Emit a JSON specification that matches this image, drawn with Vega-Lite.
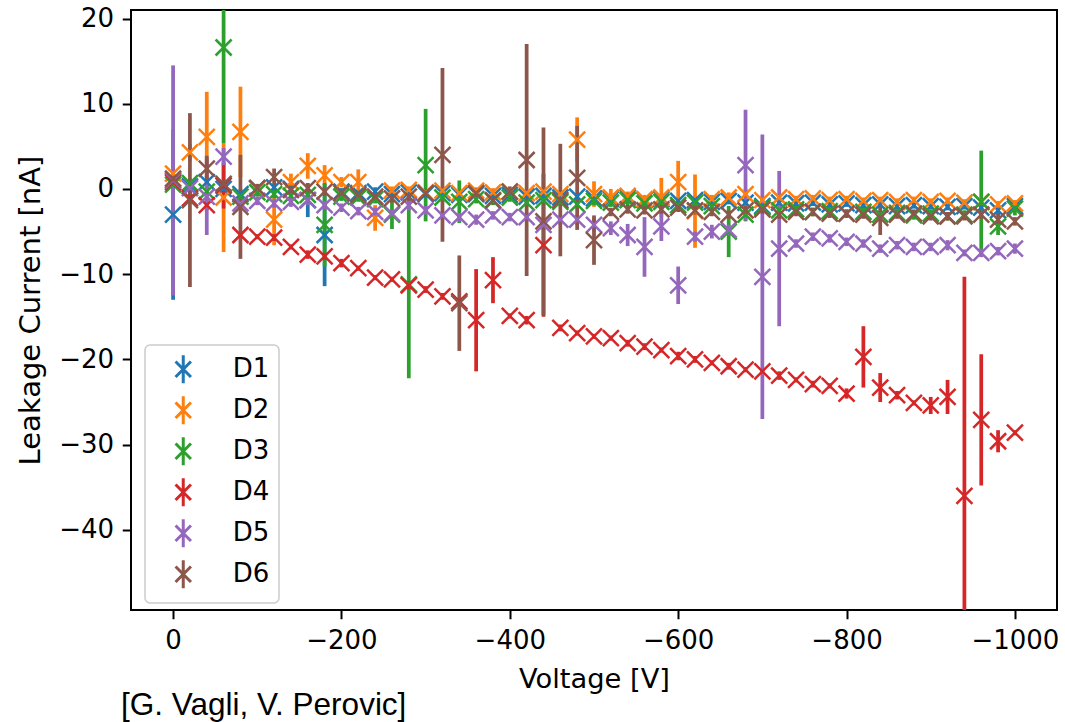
{
  "$schema": "https://vega.github.io/schema/vega-lite/v6.json",
  "autosize": "none",
  "width": 926,
  "height": 600,
  "padding": {"left": 131, "top": 10, "right": 8, "bottom": 112},
  "background": "white",
  "title": {"text": "[G. Vagli, V. Perovic]", "orient": "bottom", "anchor": "start", "frame": "group", "font": "Liberation Sans", "fontSize": 31.5, "fontWeight": "normal", "color": "black", "offset": -3, "dx": -10},
  "data": {"values": [
    {"s":"D1","V":0,"I":-3.0,"e":10},{"s":"D1","V":-20,"I":0.3,"e":0.8},{"s":"D1","V":-40,"I":0.8,"e":0.8},{"s":"D1","V":-60,"I":0.0,"e":0.5},{"s":"D1","V":-80,"I":-0.6,"e":0.6},{"s":"D1","V":-100,"I":0.1,"e":0.4},{"s":"D1","V":-120,"I":0.2,"e":0.4},{"s":"D1","V":-140,"I":0.0,"e":0.5},{"s":"D1","V":-160,"I":-1.3,"e":2.0},{"s":"D1","V":-180,"I":-5.4,"e":6.0},
    {"s":"D1","V":-200,"I":-0.3,"e":0.4},{"s":"D1","V":-220,"I":-0.5,"e":0.4},{"s":"D1","V":-240,"I":-0.3,"e":0.5},{"s":"D1","V":-260,"I":-0.6,"e":0.4},{"s":"D1","V":-280,"I":-0.4,"e":0.4},{"s":"D1","V":-300,"I":-0.6,"e":0.4},{"s":"D1","V":-320,"I":-0.5,"e":0.4},{"s":"D1","V":-340,"I":-0.7,"e":0.4},{"s":"D1","V":-360,"I":-0.6,"e":0.4},{"s":"D1","V":-380,"I":-0.8,"e":0.4},
    {"s":"D1","V":-400,"I":-0.7,"e":0.4},{"s":"D1","V":-420,"I":-0.9,"e":0.4},{"s":"D1","V":-440,"I":-0.8,"e":0.4},{"s":"D1","V":-460,"I":-1.0,"e":0.4},{"s":"D1","V":-480,"I":-0.9,"e":0.4},{"s":"D1","V":-500,"I":-1.1,"e":0.4},{"s":"D1","V":-520,"I":-1.2,"e":0.4},{"s":"D1","V":-540,"I":-1.0,"e":0.4},{"s":"D1","V":-560,"I":-1.3,"e":0.4},{"s":"D1","V":-580,"I":-1.2,"e":0.4},
    {"s":"D1","V":-600,"I":-1.4,"e":0.4},{"s":"D1","V":-620,"I":-1.3,"e":0.4},{"s":"D1","V":-640,"I":-1.5,"e":0.4},{"s":"D1","V":-660,"I":-1.4,"e":0.4},{"s":"D1","V":-680,"I":-1.6,"e":0.4},{"s":"D1","V":-700,"I":-2.0,"e":0.5},{"s":"D1","V":-720,"I":-1.6,"e":0.4},{"s":"D1","V":-740,"I":-1.7,"e":0.4},{"s":"D1","V":-760,"I":-1.6,"e":0.4},{"s":"D1","V":-780,"I":-1.8,"e":0.4},
    {"s":"D1","V":-800,"I":-1.7,"e":0.4},{"s":"D1","V":-820,"I":-1.9,"e":0.4},{"s":"D1","V":-840,"I":-1.8,"e":0.5},{"s":"D1","V":-860,"I":-2.0,"e":0.4},{"s":"D1","V":-880,"I":-1.9,"e":0.4},{"s":"D1","V":-900,"I":-2.0,"e":0.4},{"s":"D1","V":-920,"I":-2.1,"e":0.4},{"s":"D1","V":-940,"I":-2.0,"e":0.4},{"s":"D1","V":-960,"I":-2.2,"e":0.4},{"s":"D1","V":-980,"I":-2.5,"e":0.6},{"s":"D1","V":-1000,"I":-2.0,"e":0.4},

    {"s":"D2","V":0,"I":1.8,"e":0.8},{"s":"D2","V":-20,"I":4.3,"e":1.0},{"s":"D2","V":-40,"I":6.1,"e":5.3},{"s":"D2","V":-60,"I":-1.0,"e":6.4},{"s":"D2","V":-80,"I":6.7,"e":5.3},{"s":"D2","V":-100,"I":0.0,"e":0.5},{"s":"D2","V":-120,"I":-3.6,"e":3.0},{"s":"D2","V":-140,"I":0.8,"e":1.0},{"s":"D2","V":-160,"I":2.7,"e":1.5},{"s":"D2","V":-180,"I":1.6,"e":1.2},
    {"s":"D2","V":-200,"I":0.8,"e":0.6},{"s":"D2","V":-220,"I":0.8,"e":1.5},{"s":"D2","V":-240,"I":-3.4,"e":1.5},{"s":"D2","V":-260,"I":-0.2,"e":0.5},{"s":"D2","V":-280,"I":-0.1,"e":0.4},{"s":"D2","V":-300,"I":-0.4,"e":0.4},{"s":"D2","V":-320,"I":-0.2,"e":0.4},{"s":"D2","V":-340,"I":-0.5,"e":0.4},{"s":"D2","V":-360,"I":-0.2,"e":0.4},{"s":"D2","V":-380,"I":-0.4,"e":0.5},
    {"s":"D2","V":-400,"I":-0.3,"e":0.4},{"s":"D2","V":-420,"I":-0.5,"e":0.4},{"s":"D2","V":-440,"I":-0.3,"e":0.4},{"s":"D2","V":-460,"I":-0.6,"e":0.4},{"s":"D2","V":-480,"I":5.8,"e":2.6},{"s":"D2","V":-500,"I":-0.6,"e":1.5},{"s":"D2","V":-520,"I":-1.0,"e":1.0},{"s":"D2","V":-540,"I":-0.8,"e":0.5},{"s":"D2","V":-560,"I":-1.2,"e":0.5},{"s":"D2","V":-580,"I":-1.0,"e":2.3},
    {"s":"D2","V":-600,"I":0.8,"e":2.5},{"s":"D2","V":-620,"I":-2.6,"e":4.3},{"s":"D2","V":-640,"I":-1.2,"e":0.5},{"s":"D2","V":-660,"I":-1.0,"e":0.6},{"s":"D2","V":-680,"I":-0.6,"e":0.6},{"s":"D2","V":-700,"I":-1.3,"e":0.5},{"s":"D2","V":-720,"I":-1.0,"e":0.4},{"s":"D2","V":-740,"I":-1.2,"e":0.4},{"s":"D2","V":-760,"I":-1.1,"e":0.4},{"s":"D2","V":-780,"I":-1.3,"e":0.4},
    {"s":"D2","V":-800,"I":-1.2,"e":0.4},{"s":"D2","V":-820,"I":-1.4,"e":0.4},{"s":"D2","V":-840,"I":-1.3,"e":0.4},{"s":"D2","V":-860,"I":-1.5,"e":0.4},{"s":"D2","V":-880,"I":-1.3,"e":0.4},{"s":"D2","V":-900,"I":-1.5,"e":0.4},{"s":"D2","V":-920,"I":-1.4,"e":0.4},{"s":"D2","V":-940,"I":-1.6,"e":0.4},{"s":"D2","V":-960,"I":-1.5,"e":0.4},{"s":"D2","V":-980,"I":-1.8,"e":0.4},{"s":"D2","V":-1000,"I":-1.7,"e":0.4},

    {"s":"D3","V":0,"I":0.5,"e":0.5},{"s":"D3","V":-20,"I":0.7,"e":0.5},{"s":"D3","V":-40,"I":-0.3,"e":0.6},{"s":"D3","V":-60,"I":16.6,"e":11.2},{"s":"D3","V":-80,"I":-0.9,"e":0.6},{"s":"D3","V":-100,"I":-0.4,"e":0.5},{"s":"D3","V":-120,"I":-0.6,"e":0.5},{"s":"D3","V":-140,"I":-0.8,"e":0.5},{"s":"D3","V":-160,"I":-0.7,"e":0.6},{"s":"D3","V":-180,"I":-4.2,"e":4.9},
    {"s":"D3","V":-200,"I":-0.9,"e":0.5},{"s":"D3","V":-220,"I":-1.0,"e":0.5},{"s":"D3","V":-240,"I":-1.2,"e":0.5},{"s":"D3","V":-260,"I":-3.0,"e":1.7},{"s":"D3","V":-280,"I":-11.2,"e":11.0},{"s":"D3","V":-300,"I":2.8,"e":6.6},{"s":"D3","V":-320,"I":-1.0,"e":0.5},{"s":"D3","V":-340,"I":-1.5,"e":2.5},{"s":"D3","V":-360,"I":-1.2,"e":0.5},{"s":"D3","V":-380,"I":-1.4,"e":0.5},
    {"s":"D3","V":-400,"I":-1.0,"e":0.5},{"s":"D3","V":-420,"I":-1.6,"e":0.5},{"s":"D3","V":-440,"I":-1.3,"e":0.5},{"s":"D3","V":-460,"I":-1.5,"e":0.5},{"s":"D3","V":-480,"I":-1.8,"e":0.5},{"s":"D3","V":-500,"I":-1.4,"e":0.5},{"s":"D3","V":-520,"I":-1.6,"e":0.5},{"s":"D3","V":-540,"I":-1.3,"e":0.8},{"s":"D3","V":-560,"I":-1.7,"e":0.5},{"s":"D3","V":-580,"I":-1.5,"e":0.5},
    {"s":"D3","V":-600,"I":-1.9,"e":0.5},{"s":"D3","V":-620,"I":-1.6,"e":0.5},{"s":"D3","V":-640,"I":-2.0,"e":0.5},{"s":"D3","V":-660,"I":-5.0,"e":3.0},{"s":"D3","V":-680,"I":-3.0,"e":0.8},{"s":"D3","V":-700,"I":-2.2,"e":0.5},{"s":"D3","V":-720,"I":-2.5,"e":0.5},{"s":"D3","V":-740,"I":-2.4,"e":0.6},{"s":"D3","V":-760,"I":-2.7,"e":0.5},{"s":"D3","V":-780,"I":-2.6,"e":0.5},
    {"s":"D3","V":-800,"I":-2.9,"e":0.5},{"s":"D3","V":-820,"I":-2.7,"e":0.5},{"s":"D3","V":-840,"I":-3.0,"e":0.5},{"s":"D3","V":-860,"I":-2.8,"e":0.5},{"s":"D3","V":-880,"I":-3.1,"e":0.5},{"s":"D3","V":-900,"I":-2.9,"e":0.5},{"s":"D3","V":-920,"I":-3.2,"e":0.5},{"s":"D3","V":-940,"I":-3.0,"e":0.5},{"s":"D3","V":-960,"I":-1.5,"e":6.0},{"s":"D3","V":-980,"I":-4.4,"e":1.0},{"s":"D3","V":-1000,"I":-2.3,"e":0.8},

    {"s":"D4","V":0,"I":0.8,"e":0.5},{"s":"D4","V":-20,"I":-1.1,"e":0.6},{"s":"D4","V":-40,"I":-1.9,"e":0.6},{"s":"D4","V":-60,"I":0.4,"e":2.7},{"s":"D4","V":-80,"I":-5.4,"e":0.4},{"s":"D4","V":-100,"I":-5.6,"e":0.3},{"s":"D4","V":-120,"I":-5.7,"e":0.4},{"s":"D4","V":-140,"I":-6.8,"e":0.3},{"s":"D4","V":-160,"I":-7.7,"e":0.5},{"s":"D4","V":-180,"I":-7.9,"e":0.4},
    {"s":"D4","V":-200,"I":-8.7,"e":0.5},{"s":"D4","V":-220,"I":-9.3,"e":0.3},{"s":"D4","V":-240,"I":-10.4,"e":0.3},{"s":"D4","V":-260,"I":-10.6,"e":0.3},{"s":"D4","V":-280,"I":-11.3,"e":0.5},{"s":"D4","V":-300,"I":-11.8,"e":0.4},{"s":"D4","V":-320,"I":-12.6,"e":0.4},{"s":"D4","V":-340,"I":-13.2,"e":0.5},{"s":"D4","V":-360,"I":-15.4,"e":6.0},{"s":"D4","V":-380,"I":-10.7,"e":2.7},
    {"s":"D4","V":-400,"I":-14.9,"e":0.3},{"s":"D4","V":-420,"I":-15.4,"e":0.5},{"s":"D4","V":-440,"I":-6.6,"e":8.4},{"s":"D4","V":-460,"I":-16.3,"e":0.4},{"s":"D4","V":-480,"I":-16.9,"e":0.3},{"s":"D4","V":-500,"I":-17.3,"e":0.3},{"s":"D4","V":-520,"I":-17.5,"e":0.3},{"s":"D4","V":-540,"I":-18.1,"e":0.4},{"s":"D4","V":-560,"I":-18.5,"e":0.4},{"s":"D4","V":-580,"I":-18.9,"e":0.3},
    {"s":"D4","V":-600,"I":-19.6,"e":0.5},{"s":"D4","V":-620,"I":-20.0,"e":0.4},{"s":"D4","V":-640,"I":-20.4,"e":0.3},{"s":"D4","V":-660,"I":-20.8,"e":0.4},{"s":"D4","V":-680,"I":-21.2,"e":0.3},{"s":"D4","V":-700,"I":-21.4,"e":0.3},{"s":"D4","V":-720,"I":-21.9,"e":0.5},{"s":"D4","V":-740,"I":-22.4,"e":0.3},{"s":"D4","V":-760,"I":-22.9,"e":0.4},{"s":"D4","V":-780,"I":-23.1,"e":0.3},
    {"s":"D4","V":-800,"I":-24.0,"e":0.6},{"s":"D4","V":-820,"I":-19.7,"e":3.6},{"s":"D4","V":-840,"I":-23.3,"e":1.7},{"s":"D4","V":-860,"I":-24.2,"e":0.5},{"s":"D4","V":-880,"I":-25.1,"e":0.3},{"s":"D4","V":-900,"I":-25.4,"e":1.0},{"s":"D4","V":-920,"I":-24.4,"e":2.0},{"s":"D4","V":-940,"I":-36.0,"e":25.7},{"s":"D4","V":-960,"I":-27.1,"e":7.7},{"s":"D4","V":-980,"I":-29.6,"e":1.3},{"s":"D4","V":-1000,"I":-28.6,"e":0.3},

    {"s":"D5","V":0,"I":1.0,"e":13.5},{"s":"D5","V":-20,"I":0.1,"e":0.6},{"s":"D5","V":-40,"I":-0.9,"e":4.5},{"s":"D5","V":-60,"I":3.8,"e":1.0},{"s":"D5","V":-80,"I":-1.7,"e":0.5},{"s":"D5","V":-100,"I":-1.4,"e":0.5},{"s":"D5","V":-120,"I":-1.7,"e":0.5},{"s":"D5","V":-140,"I":-1.5,"e":0.6},{"s":"D5","V":-160,"I":-1.3,"e":0.6},{"s":"D5","V":-180,"I":-1.9,"e":0.5},
    {"s":"D5","V":-200,"I":-2.2,"e":0.5},{"s":"D5","V":-220,"I":-2.6,"e":0.5},{"s":"D5","V":-240,"I":-2.7,"e":0.5},{"s":"D5","V":-260,"I":-2.9,"e":0.5},{"s":"D5","V":-280,"I":-1.9,"e":0.6},{"s":"D5","V":-300,"I":-2.5,"e":0.5},{"s":"D5","V":-320,"I":-3.1,"e":0.5},{"s":"D5","V":-340,"I":-3.3,"e":0.5},{"s":"D5","V":-360,"I":-3.6,"e":0.6},{"s":"D5","V":-380,"I":-3.1,"e":0.5},
    {"s":"D5","V":-400,"I":-3.3,"e":0.5},{"s":"D5","V":-420,"I":-3.3,"e":0.5},{"s":"D5","V":-440,"I":-4.2,"e":0.6},{"s":"D5","V":-460,"I":-3.6,"e":0.6},{"s":"D5","V":-480,"I":-3.6,"e":0.6},{"s":"D5","V":-500,"I":-4.2,"e":0.8},{"s":"D5","V":-520,"I":-4.6,"e":0.8},{"s":"D5","V":-540,"I":-5.4,"e":1.3},{"s":"D5","V":-560,"I":-6.8,"e":3.5},{"s":"D5","V":-580,"I":-4.4,"e":1.7},
    {"s":"D5","V":-600,"I":-11.3,"e":2.2},{"s":"D5","V":-620,"I":-5.6,"e":0.6},{"s":"D5","V":-640,"I":-5.0,"e":0.8},{"s":"D5","V":-660,"I":-4.8,"e":0.6},{"s":"D5","V":-680,"I":2.8,"e":6.5},{"s":"D5","V":-700,"I":-10.3,"e":16.7},{"s":"D5","V":-720,"I":-7.0,"e":9.1},{"s":"D5","V":-740,"I":-6.4,"e":0.5},{"s":"D5","V":-760,"I":-5.6,"e":0.5},{"s":"D5","V":-780,"I":-5.8,"e":0.5},
    {"s":"D5","V":-800,"I":-6.2,"e":0.5},{"s":"D5","V":-820,"I":-6.4,"e":0.5},{"s":"D5","V":-840,"I":-7.0,"e":0.5},{"s":"D5","V":-860,"I":-6.6,"e":0.5},{"s":"D5","V":-880,"I":-6.8,"e":0.5},{"s":"D5","V":-900,"I":-6.8,"e":0.5},{"s":"D5","V":-920,"I":-6.6,"e":0.6},{"s":"D5","V":-940,"I":-7.5,"e":0.4},{"s":"D5","V":-960,"I":-7.5,"e":0.5},{"s":"D5","V":-980,"I":-7.3,"e":0.5},{"s":"D5","V":-1000,"I":-7.0,"e":0.6},

    {"s":"D6","V":0,"I":1.2,"e":0.8},{"s":"D6","V":-20,"I":-1.3,"e":10.2},{"s":"D6","V":-40,"I":2.4,"e":1.5},{"s":"D6","V":-60,"I":0.6,"e":0.5},{"s":"D6","V":-80,"I":-2.1,"e":6.1},{"s":"D6","V":-100,"I":0.1,"e":0.5},{"s":"D6","V":-120,"I":1.4,"e":1.0},{"s":"D6","V":-140,"I":-0.1,"e":0.5},{"s":"D6","V":-160,"I":0.1,"e":0.5},{"s":"D6","V":-180,"I":-0.3,"e":0.5},
    {"s":"D6","V":-200,"I":-0.5,"e":0.5},{"s":"D6","V":-220,"I":-0.7,"e":0.5},{"s":"D6","V":-240,"I":-0.9,"e":0.5},{"s":"D6","V":-260,"I":-1.1,"e":0.5},{"s":"D6","V":-280,"I":-0.9,"e":0.5},{"s":"D6","V":-300,"I":-0.5,"e":0.5},{"s":"D6","V":-320,"I":4.0,"e":10.2},{"s":"D6","V":-340,"I":-13.4,"e":5.6},{"s":"D6","V":-360,"I":-0.5,"e":0.6},{"s":"D6","V":-380,"I":-1.3,"e":0.5},
    {"s":"D6","V":-400,"I":-0.3,"e":0.6},{"s":"D6","V":-420,"I":3.4,"e":13.6},{"s":"D6","V":-440,"I":-3.8,"e":11.0},{"s":"D6","V":-460,"I":-1.3,"e":6.6},{"s":"D6","V":-480,"I":1.3,"e":6.1},{"s":"D6","V":-500,"I":-6.0,"e":2.9},{"s":"D6","V":-520,"I":-2.7,"e":0.5},{"s":"D6","V":-540,"I":-2.4,"e":0.5},{"s":"D6","V":-560,"I":-2.5,"e":0.5},{"s":"D6","V":-580,"I":-2.4,"e":0.5},
    {"s":"D6","V":-600,"I":-2.2,"e":0.5},{"s":"D6","V":-620,"I":-2.5,"e":0.5},{"s":"D6","V":-640,"I":-2.7,"e":0.5},{"s":"D6","V":-660,"I":-3.0,"e":0.5},{"s":"D6","V":-680,"I":-2.5,"e":0.5},{"s":"D6","V":-700,"I":-2.4,"e":0.5},{"s":"D6","V":-720,"I":-3.0,"e":0.5},{"s":"D6","V":-740,"I":-2.7,"e":0.5},{"s":"D6","V":-760,"I":-2.7,"e":0.5},{"s":"D6","V":-780,"I":-2.9,"e":0.5},
    {"s":"D6","V":-800,"I":-2.9,"e":0.5},{"s":"D6","V":-820,"I":-3.0,"e":0.5},{"s":"D6","V":-840,"I":-3.4,"e":2.0},{"s":"D6","V":-860,"I":-3.0,"e":0.5},{"s":"D6","V":-880,"I":-2.9,"e":0.5},{"s":"D6","V":-900,"I":-3.2,"e":0.5},{"s":"D6","V":-920,"I":-3.2,"e":0.5},{"s":"D6","V":-940,"I":-3.2,"e":0.5},{"s":"D6","V":-960,"I":-3.0,"e":0.5},{"s":"D6","V":-980,"I":-3.6,"e":0.7},{"s":"D6","V":-1000,"I":-3.8,"e":0.5}
  ]},
  "encoding": {
    "x": {"field": "V", "type": "quantitative", "title": "Voltage [V]",
      "scale": {"domain": [50, -1050], "nice": false, "zero": false},
      "axis": {"values": [0, -200, -400, -600, -800, -1000], "format": "d"}},
    "color": {"field": "s", "type": "nominal", "title": null,
      "scale": {"domain": ["D1","D2","D3","D4","D5","D6"], "range": ["#1f77b4","#ff7f0e","#2ca02c","#d62728","#9467bd","#8c564b"]}}
  },
  "layer": [
    {
      "mark": {"type": "errorbar", "thickness": 3.75},
      "encoding": {
        "y": {"field": "I", "type": "quantitative", "title": "Leakage Current [nA]",
          "scale": {"domain": [-49.4, 21.0], "nice": false, "zero": false, "clamp": true},
          "axis": {"values": [20, 10, 0, -10, -20, -30, -40], "format": "d"}},
        "yError": {"field": "e"}
      }
    },
    {
      "mark": {"type": "point", "shape": "M-1,-1L1,1M-1,1L1,-1", "filled": false, "size": 256, "strokeWidth": 2.5, "opacity": 1},
      "encoding": {
        "y": {"field": "I", "type": "quantitative"}
      }
    }
  ],
  "config": {
    "view": {"stroke": "black", "strokeWidth": 2},
    "axis": {"domain": false, "grid": false, "ticks": true, "tickColor": "black", "tickWidth": 2, "tickSize": 8.75, "labelPadding": 8.75,
      "labelFont": "DejaVu Sans", "labelFontSize": 26, "labelColor": "black",
      "titleFont": "DejaVu Sans", "titleFontWeight": "normal", "titleColor": "black"},
    "axisX": {"titlePadding": 12, "titleFontSize": 27.3},
    "axisY": {"titlePadding": 13, "titleFontSize": 29},
    "legend": {"orient": "none", "legendX": 14, "legendY": 335,
      "symbolType": "M-0.55,-0.55L0.55,0.55M-0.55,0.55L0.55,-0.55M0,-1L0,1", "symbolSize": 784, "symbolStrokeWidth": 3, "symbolOffset": 14,
      "labelFont": "DejaVu Sans", "labelFontSize": 26, "labelColor": "black", "labelOffset": 34, "rowPadding": 0,
      "padding": 8.75, "strokeColor": "#cccccc", "strokeWidth": 1.5, "fillColor": "rgba(255,255,255,0.8)", "cornerRadius": 5}
  }
}
